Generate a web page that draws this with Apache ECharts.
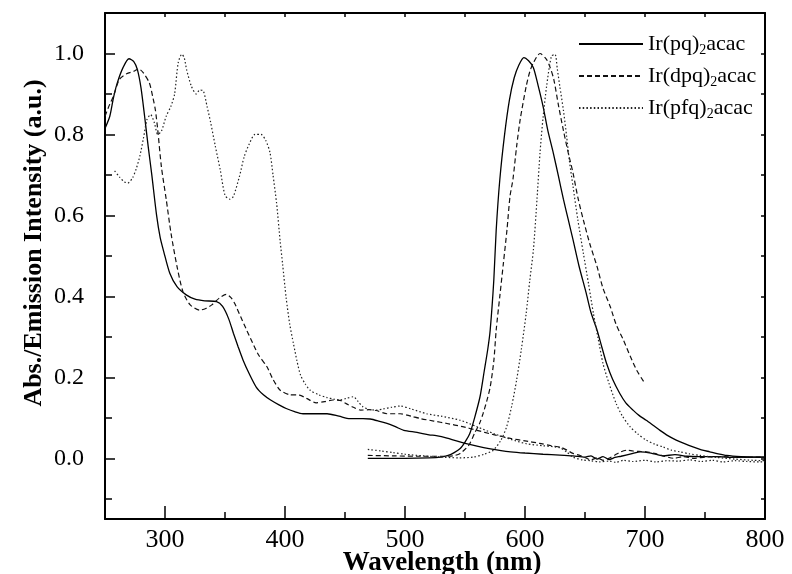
<!DOCTYPE html>
<html>
<head>
<meta charset="utf-8">
<script src="https://cdn.jsdelivr.net/npm/echarts@6/dist/echarts.min.js"></script>
<style>html,body{margin:0;padding:0;background:#fff}#c{width:792px;height:574px}</style>
</head>
<body>
<div id="c"></div>
<script>
// ---- tick values ----
const xMajorTicks = [300, 400, 500, 600, 700, 800];
const xMinorTicks = [350, 450, 550, 650, 750];
const xTopTicks = [300, 350, 400, 450, 500, 550, 600, 650, 700, 750];
const yMajorTicks = [0, 0.2, 0.4, 0.6, 0.8, 1.0];
const yMinorTicks = [-0.1, 0.1, 0.3, 0.5, 0.7, 0.9];
const yRightTicks = [-0.1, 0, 0.1, 0.2, 0.3, 0.4, 0.5, 0.6, 0.7, 0.8, 0.9, 1.0];

// ---- legend names / axis titles ----
const seriesNames = ['Ir(pq)2acac', 'Ir(dpq)2acac', 'Ir(pfq)2acac'];
const xTitle = 'Wavelength (nm)';
const yTitle = 'Abs./Emission Intensity (a.u.)';

// ---- Ir(pq)2acac absorption ----
const pqAbsX = [250,254,257,260,265,270,274,277,280,283,286,289,293,296,299,304,310,318,325,333,343,348,353,357,361,365,370,376,382,388,395,401,408,415,425,435,445,454,465,471,478,485,492,499,510,520,526,535,545,551,560,570,580,588,600,615,629,640,650,655,660,665,670,675,680,690,696,705,715,725,735,745,760,775,790,800];
const pqAbsY = [0.815,0.845,0.89,0.925,0.965,0.987,0.98,0.96,0.915,0.845,0.77,0.70,0.60,0.545,0.51,0.457,0.424,0.403,0.393,0.389,0.387,0.375,0.345,0.309,0.275,0.243,0.21,0.176,0.157,0.144,0.132,0.123,0.115,0.11,0.11,0.11,0.104,0.098,0.098,0.097,0.092,0.086,0.078,0.069,0.064,0.058,0.056,0.05,0.041,0.036,0.03,0.024,0.019,0.016,0.013,0.01,0.008,0.006,0.003,0.006,-0.002,0.004,-0.003,0.002,0.005,0.012,0.016,0.013,0.006,0.009,0.005,0.004,0.004,0.002,0.003,0.003];

// ---- Ir(dpq)2acac absorption ----
const dpqAbsX = [250,254,257,262,268,274,278,282,287,290,292,294,297,301,305,310,315,321,329,334,339,345,351,355,358,363,368,373,378,385,390,396,404,412,418,426,433,440,446,451,457,463,470,476,485,496,505,513,524,535,548,560,573,588,600,612,622,630,635,640,646,650,655,660,665,670,675,680,685,690,695,701,708,715,724,732,740,751,765,780,796,800];
const dpqAbsY = [0.845,0.875,0.894,0.936,0.95,0.956,0.962,0.952,0.927,0.89,0.86,0.81,0.72,0.64,0.556,0.474,0.411,0.379,0.366,0.37,0.379,0.395,0.405,0.397,0.383,0.35,0.317,0.285,0.255,0.226,0.195,0.168,0.157,0.156,0.148,0.137,0.14,0.144,0.143,0.135,0.126,0.119,0.12,0.118,0.11,0.11,0.104,0.098,0.092,0.086,0.078,0.069,0.059,0.049,0.043,0.037,0.031,0.027,0.02,0.012,0.007,0.002,-0.004,0.001,-0.005,0.0,0.008,0.016,0.02,0.018,0.017,0.016,0.012,0.006,0.0,0.004,0.0,0.003,0.004,0.002,0.003,0.003];

// ---- Ir(pfq)2acac absorption ----
const pfqAbsX = [258,262,266,269,273,276,279,282,285,288,291,294,297,301,305,308,311,314,316,318,322,326,329,332,335,338,342,346,350,354,357,362,366,370,375,380,384,387.5,390,393,396,398,401,404,407,410,413,417,421,428,435,441,446,451,457,461,465,470,476,482,489,496,505,518,530,546,560,574,588,601,615,629,635,640,648,655,662,670,676,682,690,700,709,718,728,737,747,756,765,775,785,796,800];
const pfqAbsY = [0.71,0.695,0.683,0.68,0.693,0.715,0.746,0.79,0.837,0.849,0.83,0.80,0.808,0.845,0.87,0.9,0.977,0.998,0.99,0.96,0.919,0.90,0.91,0.907,0.87,0.83,0.77,0.713,0.65,0.64,0.647,0.696,0.745,0.775,0.80,0.80,0.785,0.755,0.70,0.63,0.535,0.48,0.395,0.33,0.284,0.24,0.205,0.183,0.168,0.157,0.15,0.146,0.144,0.148,0.152,0.14,0.127,0.121,0.119,0.122,0.126,0.129,0.122,0.11,0.104,0.094,0.078,0.061,0.047,0.036,0.031,0.026,0.015,0.003,-0.004,-0.006,-0.009,-0.007,-0.01,-0.005,-0.008,-0.005,-0.009,-0.006,-0.007,-0.004,-0.008,-0.005,-0.009,-0.006,-0.008,-0.009,-0.008];

// ---- Ir(pq)2acac emission ----
const pqEmX = [469,480,500,520,530,536,541,546,550,554,558,562.5,566,569,571,574,576,579,583,587,591,595,599,603,607,611,615,619,623.6,628,632,636,640,645,651,655,660,664,668,673,679,684,690,695,701,707,712.5,719,726,733,740,747,754,761,768,780,790,800];
const pqEmY = [0.0,0.0,0.0,0.001,0.003,0.007,0.014,0.024,0.04,0.061,0.1,0.152,0.215,0.27,0.317,0.44,0.564,0.688,0.80,0.885,0.94,0.972,0.99,0.982,0.965,0.92,0.87,0.81,0.754,0.695,0.64,0.59,0.54,0.475,0.408,0.36,0.317,0.275,0.234,0.195,0.16,0.137,0.119,0.106,0.094,0.081,0.069,0.056,0.045,0.036,0.028,0.021,0.016,0.011,0.007,0.004,0.003,0.003];

// ---- Ir(dpq)2acac emission ----
const dpqEmX = [469,490,510,530,540,546,551,554,558,562,565,568,571,574,576,579,582,585,587.5,590,593,596,601,604,607,612.5,618,621,624,628,632,636,640,644,648.6,654,660,665,671,676,682,688,693,699,700];
const dpqEmY = [0.007,0.006,0.005,0.005,0.006,0.012,0.025,0.036,0.062,0.085,0.11,0.14,0.176,0.24,0.317,0.40,0.482,0.565,0.647,0.69,0.77,0.837,0.919,0.955,0.977,1.0,0.985,0.965,0.936,0.87,0.81,0.755,0.705,0.645,0.589,0.53,0.474,0.42,0.375,0.33,0.292,0.25,0.218,0.189,0.186];

// ---- Ir(pfq)2acac emission ----
const pfqEmX = [469,480,490,500,515,530,545,557,566,573.6,580,584.7,589,593,597,601,604,607,610,612.5,615,618,622,625,627,629,632,634.7,637,640,644,648.6,653,657,661,665,670,676,681,687.5,694,701,708,715,722,729,737,746,760,775,790,800];
const pfqEmY = [0.022,0.018,0.014,0.01,0.006,0.003,0.001,0.003,0.01,0.02,0.045,0.078,0.13,0.193,0.27,0.358,0.44,0.515,0.64,0.754,0.84,0.919,0.993,0.998,0.96,0.919,0.86,0.795,0.735,0.672,0.59,0.507,0.43,0.358,0.295,0.234,0.185,0.135,0.105,0.078,0.06,0.045,0.035,0.028,0.02,0.016,0.011,0.007,0.002,-0.002,-0.005,-0.006];

const FONT = 'Liberation Serif';
const zip = (xs, ys) => xs.map((x, i) => [x, ys[i]]);
const styles = [
  {type: 'solid', width: 1.3, color: '#000'},
  {type: [5, 3], width: 1.2, color: '#111'},
  {type: [1.5, 2.2], width: 1.2, color: '#222'}
];
function mk(nameIdx, xs, ys) {
  return {
    type: 'line', name: seriesNames[nameIdx], data: zip(xs, ys),
    showSymbol: false, symbol: 'none', smooth: 0.25, animation: false,
    lineStyle: styles[nameIdx], itemStyle: {color: styles[nameIdx].color},
    xAxisIndex: 0, yAxisIndex: 0
  };
}
const axisLineStyle = {onZero: false, lineStyle: {color: '#000', width: 2}};
const tickStyle = {color: '#000', width: 1.5};

const chart = echarts.init(document.getElementById('c'), null, {renderer: 'canvas'});
chart.setOption({
  animation: false,
  backgroundColor: '#fff',
  grid: {left: 105, right: 27, top: 13, bottom: 55, containLabel: false, outerBoundsMode: 'none'},
  legend: {
    orient: 'vertical', left: 573, top: 28,
    itemWidth: 64, itemHeight: 10, itemGap: 8,
    data: seriesNames,
    itemStyle: {opacity: 0},
    formatter: n => n.replace('2acac', '{sub|2}acac'),
    textStyle: {
      fontFamily: FONT, fontSize: 22, color: '#000',
      rich: {sub: {fontFamily: FONT, fontSize: 14, color: '#000', padding: [12, 0, 0, 0]}}
    }
  },
  graphic: [
    {
      type: 'text', x: 34, y: 243, rotation: Math.PI / 2,
      style: {text: yTitle, font: 'bold 26px "Liberation Serif"', fill: '#000', align: 'center', verticalAlign: 'middle'}
    },
    {
      type: 'text', x: 442, y: 563,
      style: {text: xTitle, font: 'bold 27px "Liberation Serif"', fill: '#000', align: 'center', verticalAlign: 'middle'}
    }
  ],
  xAxis: [
    {
      type: 'value', min: 250, max: 800, position: 'bottom',
      axisLine: axisLineStyle,
      axisTick: {inside: true, length: 13, customValues: xMajorTicks, lineStyle: tickStyle},
      axisLabel: {customValues: xMajorTicks, fontFamily: FONT, fontSize: 26, color: '#000', margin: 8},
      splitLine: {show: false}
    },
    {
      type: 'value', min: 250, max: 800, position: 'bottom',
      axisLine: {show: false, onZero: false},
      axisTick: {inside: true, length: 7, customValues: xMinorTicks, lineStyle: tickStyle},
      axisLabel: {show: false}, splitLine: {show: false}
    },
    {
      type: 'value', min: 250, max: 800, position: 'top',
      axisLine: axisLineStyle,
      axisTick: {inside: true, length: 4, customValues: xTopTicks, lineStyle: tickStyle},
      axisLabel: {show: false}, splitLine: {show: false}
    }
  ],
  yAxis: [
    {
      type: 'value', min: -0.15, max: 1.1, position: 'left',
      axisLine: axisLineStyle,
      axisTick: {inside: true, length: 10, customValues: yMajorTicks, lineStyle: tickStyle},
      axisLabel: {customValues: yMajorTicks, formatter: v => v.toFixed(1), fontFamily: FONT, fontSize: 24, color: '#000', margin: 21},
      splitLine: {show: false}
    },
    {
      type: 'value', min: -0.15, max: 1.1, position: 'left',
      axisLine: {show: false, onZero: false},
      axisTick: {inside: true, length: 7, customValues: yMinorTicks, lineStyle: tickStyle},
      axisLabel: {show: false}, splitLine: {show: false}
    },
    {
      type: 'value', min: -0.15, max: 1.1, position: 'right',
      axisLine: axisLineStyle,
      axisTick: {inside: true, length: 4, customValues: yRightTicks, lineStyle: tickStyle},
      axisLabel: {show: false}, splitLine: {show: false}
    }
  ],
  series: [
    mk(0, pqAbsX, pqAbsY),
    mk(1, dpqAbsX, dpqAbsY),
    mk(2, pfqAbsX, pfqAbsY),
    mk(0, pqEmX, pqEmY),
    mk(1, dpqEmX, dpqEmY),
    mk(2, pfqEmX, pfqEmY)
  ]
});
</script>
</body>
</html>
